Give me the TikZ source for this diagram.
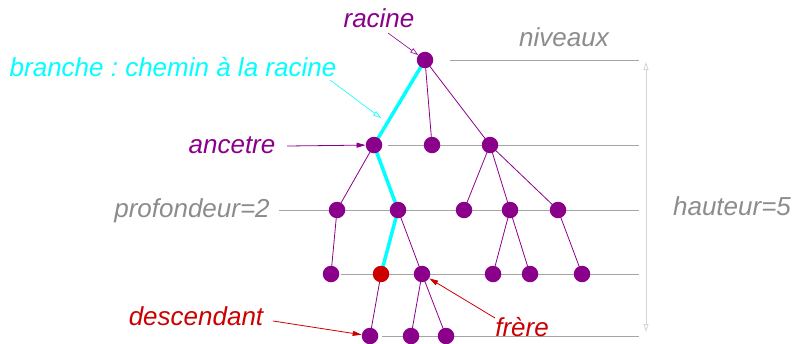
\documentclass[tikz,border=0pt]{standalone}
\usepackage{fontspec}
\setmainfont{Liberation Sans}
\usetikzlibrary{arrows.meta}
\definecolor{pur}{RGB}{139,0,139}
\definecolor{rd}{RGB}{204,0,0}
\definecolor{cy}{RGB}{0,255,255}
\definecolor{gtxt}{RGB}{140,140,140}
\definecolor{gline}{RGB}{165,165,165}
\definecolor{glight}{RGB}{212,212,212}
\frenchspacing
\begin{document}
\begin{tikzpicture}[x=1pt,y=-1pt,
 nd/.style={circle,fill=pur,inner sep=0,minimum size=16.5pt},
 edge/.style={pur,line width=0.8pt},
 br/.style={cy,line width=3.5pt},
 lvl/.style={gline,line width=1pt},
 lab/.style={font=\fontsize{26}{30}\selectfont\itshape\frenchspacing,inner sep=0},
 opentip/.style={-{Triangle[open,length=8pt,width=5pt]}},
 filltip/.style={-{Triangle[length=9pt,width=5pt]}},
]
\useasboundingbox (0,0) rectangle (794,343);

% level lines
\coordinate (l0a) at (450,60);  \coordinate (l0b) at (639,60);
\coordinate (l1a) at (388,145); \coordinate (l1b) at (639,145);
\coordinate (l2a) at (279,210); \coordinate (l2b) at (639,210);
\coordinate (l3a) at (341,274); \coordinate (l3b) at (639,274);
\coordinate (l4a) at (382,336); \coordinate (l4b) at (639,336);
\draw[lvl] (l0a) -- (l0b);
\draw[lvl] (l1a) -- (l1b);
\draw[lvl] (l2a) -- (l2b);
\draw[lvl] (l3a) -- (l3b);
\draw[lvl] (l4a) -- (l4b);

% height arrow
\coordinate (ht) at (646,62); \coordinate (hb) at (646,332);
\draw[glight,line width=0.8pt,{Triangle[open,length=8pt,width=5pt]}-{Triangle[open,length=8pt,width=5pt]}] (ht) -- (hb);

% node positions
\coordinate (r) at (425,60);
\coordinate (a) at (374,145);
\coordinate (b) at (432,145);
\coordinate (c) at (490,145);
\coordinate (d) at (337,210);
\coordinate (e) at (398,210);
\coordinate (f) at (464,210);
\coordinate (g) at (510,210);
\coordinate (h) at (558,210);
\coordinate (i) at (331,274);
\coordinate (j) at (381,274);
\coordinate (k) at (422,274);
\coordinate (l) at (493,274);
\coordinate (m) at (530,274);
\coordinate (n) at (582,274);
\coordinate (o) at (370,336);
\coordinate (p) at (411,336);
\coordinate (q) at (446,336);

% edges
\draw[edge] (r) -- (b);
\draw[edge] (r) -- (c);
\draw[edge] (a) -- (d);
\draw[edge] (c) -- (f);
\draw[edge] (c) -- (g);
\draw[edge] (c) -- (h);
\draw[edge] (d) -- (i);
\draw[edge] (e) -- (k);
\draw[edge] (g) -- (l);
\draw[edge] (g) -- (m);
\draw[edge] (h) -- (n);
\draw[edge] (j) -- (o);
\draw[edge] (k) -- (p);
\draw[edge] (k) -- (q);
\draw[br] (r) -- (a) -- (e) -- (j);

% nodes
\foreach \v in {r,a,b,c,d,e,f,g,h,i,k,l,m,n,o,p,q}
  \node[nd] (N\v) at (\v) {};
\node[nd,fill=rd] (Nj) at (j) {};

% labels
\node[lab,text=pur] (tracine) at (379,18) {racine};
\node[lab,text=gtxt] (tniv) at (564,37) {niveaux};
\node[lab,text=cy] (tbr) at (173,67) {branche : chemin à la racine};
\node[lab,text=pur] (tanc) at (232,145) {ancetre};
\node[lab,text=gtxt] (tprof) at (192,211) {profondeur=2};
\node[lab,text=gtxt] (thaut) at (732,206) {hauteur=5};
\node[lab,text=rd] (tdesc) at (196,316) {descendant};
\node[lab,text=rd] (tfrere) at (522,327) {frère};

% arrows
\coordinate (ar0) at (388,33);
\draw[pur,line width=0.6pt,opentip] (ar0) -- (Nr);
\coordinate (ab0) at (330,80);
\coordinate (ab1) at (381,118);
\draw[cy,line width=0.6pt,opentip] (ab0) -- (ab1);
\coordinate (aa0) at (287,146);
\draw[pur,line width=0.8pt,filltip] (aa0) -- (Na);
\coordinate (ad0) at (273,321);
\draw[rd,line width=0.8pt,filltip] (ad0) -- (No);
\coordinate (af0) at (495,318);
\draw[rd,line width=0.8pt,filltip] (af0) -- (Nk);
\end{tikzpicture}
\end{document}
